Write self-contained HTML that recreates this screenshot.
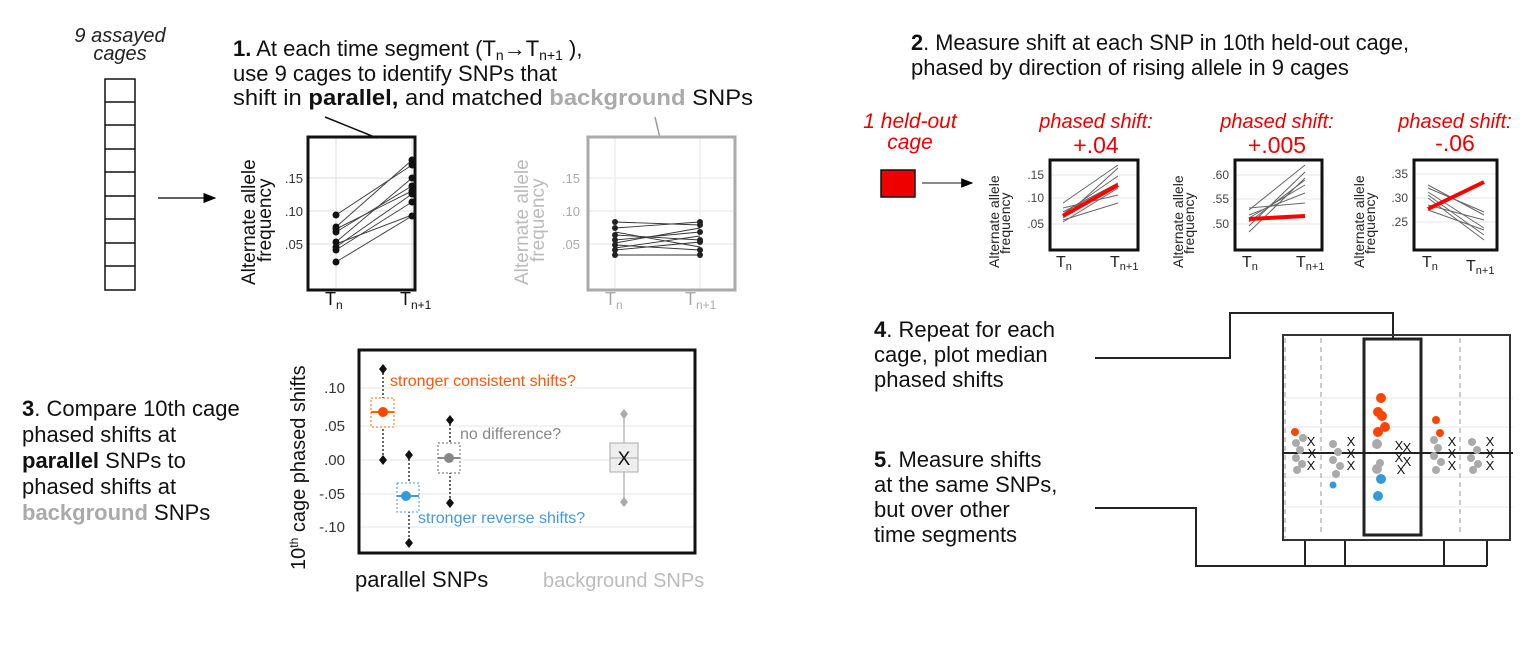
<!DOCTYPE html>
<html><head><meta charset="utf-8"><style>
html,body{margin:0;padding:0;background:#fff;}
svg{display:block;font-family:"Liberation Sans",sans-serif;}
</style></head><body>
<svg width="1537" height="652" viewBox="0 0 1537 652" xmlns="http://www.w3.org/2000/svg">
<defs><marker id="ar" markerWidth="10" markerHeight="10" refX="9" refY="5" orient="auto"><path d="M0,1 L10,5 L0,9 z" fill="#000"/></marker></defs>

<text x="120" y="42" font-size="20" font-style="italic" text-anchor="middle" fill="#222">9 assayed</text>
<text x="120" y="60" font-size="20" font-style="italic" text-anchor="middle" fill="#222">cages</text>
<g fill="none" stroke="#111" stroke-width="1.5">
<rect x="105" y="79" width="30" height="211"/>
<line x1="105" y1="102" x2="135" y2="102"/><line x1="105" y1="125" x2="135" y2="125"/><line x1="105" y1="149" x2="135" y2="149"/><line x1="105" y1="172" x2="135" y2="172"/><line x1="105" y1="196" x2="135" y2="196"/><line x1="105" y1="219" x2="135" y2="219"/><line x1="105" y1="243" x2="135" y2="243"/><line x1="105" y1="266" x2="135" y2="266"/>
</g>
<line x1="158" y1="198" x2="215" y2="198" stroke="#000" stroke-width="1.3" marker-end="url(#ar)"/>

<text x="233" y="56" font-size="22" fill="#111"><tspan font-weight="bold">1.</tspan>  At each time segment (T<tspan font-size="14" dy="4">n</tspan><tspan dy="-4">→T</tspan><tspan font-size="14" dy="4">n+1</tspan><tspan dy="-4"> ),</tspan></text>
<text x="233" y="81" font-size="22" fill="#111">use 9 cages to identify SNPs that</text>
<text x="233" y="105" font-size="22" fill="#111" textLength="520" lengthAdjust="spacingAndGlyphs">shift in <tspan font-weight="bold">parallel,</tspan> and matched <tspan fill="#aaa" font-weight="bold">background</tspan> SNPs</text>
<line x1="325" y1="117" x2="377" y2="138" stroke="#111" stroke-width="1.5"/>
<line x1="655" y1="117" x2="660" y2="138" stroke="#999" stroke-width="1.5"/>

<g stroke="#ddd" stroke-width="1"><line x1="308" y1="178" x2="415" y2="178"/><line x1="308" y1="211" x2="415" y2="211"/><line x1="308" y1="244" x2="415" y2="244"/><line x1="336" y1="137" x2="336" y2="290"/><line x1="412" y1="137" x2="412" y2="290"/></g>
<g stroke="#444" stroke-width="1">
<line x1="336" y1="215" x2="412" y2="165"/><line x1="336" y1="227" x2="412" y2="160"/><line x1="336" y1="232" x2="412" y2="186"/><line x1="336" y1="242" x2="412" y2="178"/><line x1="336" y1="247" x2="412" y2="194"/><line x1="336" y1="250" x2="412" y2="202"/><line x1="336" y1="262" x2="412" y2="216"/><line x1="336" y1="229" x2="412" y2="191"/><line x1="336" y1="244" x2="412" y2="215"/>
</g>
<g fill="#111"><circle cx="336" cy="215" r="3.5"/><circle cx="336" cy="227" r="3.5"/><circle cx="336" cy="232" r="3.5"/><circle cx="336" cy="242" r="3.5"/><circle cx="336" cy="247" r="3.5"/><circle cx="336" cy="250" r="3.5"/><circle cx="336" cy="262" r="3.5"/><circle cx="336" cy="229" r="3.5"/>
<circle cx="412" cy="165" r="3.5"/><circle cx="412" cy="160" r="3.5"/><circle cx="412" cy="186" r="3.5"/><circle cx="412" cy="178" r="3.5"/><circle cx="412" cy="194" r="3.5"/><circle cx="412" cy="202" r="3.5"/><circle cx="412" cy="216" r="3.5"/><circle cx="412" cy="191" r="3.5"/></g>
<rect x="308" y="137" width="107" height="153" fill="none" stroke="#111" stroke-width="3"/>
<g font-size="13" fill="#333" text-anchor="end"><text x="303" y="183">.15</text><text x="303" y="216">.10</text><text x="303" y="249">.05</text></g>
<text transform="translate(255,285) rotate(-90)" font-size="19" fill="#111">Alternate allele</text>
<text transform="translate(271,262) rotate(-90)" font-size="19" fill="#111">frequency</text>
<text x="325" y="305" font-size="18" fill="#111">T<tspan font-size="12" dy="4">n</tspan></text>
<text x="400" y="305" font-size="18" fill="#111">T<tspan font-size="12" dy="4">n+1</tspan></text>

<g stroke="#e5e5e5"><line x1="588" y1="178" x2="735" y2="178"/><line x1="588" y1="211" x2="735" y2="211"/><line x1="588" y1="244" x2="735" y2="244"/><line x1="615" y1="137" x2="615" y2="290"/><line x1="700" y1="137" x2="700" y2="290"/></g>
<g stroke="#333" stroke-width="0.9">
<line x1="615" y1="222" x2="700" y2="225"/><line x1="615" y1="228" x2="700" y2="222"/><line x1="615" y1="235" x2="700" y2="240"/><line x1="615" y1="240" x2="700" y2="232"/><line x1="615" y1="245" x2="700" y2="250"/><line x1="615" y1="250" x2="700" y2="242"/><line x1="615" y1="255" x2="700" y2="255"/><line x1="615" y1="232" x2="700" y2="247"/><line x1="615" y1="248" x2="700" y2="236"/><line x1="615" y1="243" x2="700" y2="228"/>
</g>
<g fill="#222"><circle cx="615" cy="222" r="3"/><circle cx="615" cy="228" r="3"/><circle cx="615" cy="235" r="3"/><circle cx="615" cy="240" r="3"/><circle cx="615" cy="245" r="3"/><circle cx="615" cy="250" r="3"/><circle cx="615" cy="255" r="3"/><circle cx="700" cy="225" r="3"/><circle cx="700" cy="222" r="3"/><circle cx="700" cy="240" r="3"/><circle cx="700" cy="232" r="3"/><circle cx="700" cy="250" r="3"/><circle cx="700" cy="242" r="3"/><circle cx="700" cy="255" r="3"/></g>
<rect x="588" y="137" width="147" height="153" fill="none" stroke="#aaa" stroke-width="3"/>
<g font-size="13" fill="#aaa" text-anchor="end"><text x="580" y="183">.15</text><text x="580" y="216">.10</text><text x="580" y="249">.05</text></g>
<text transform="translate(528,285) rotate(-90)" font-size="19" fill="#bbb">Alternate allele</text>
<text transform="translate(544,262) rotate(-90)" font-size="19" fill="#bbb">frequency</text>
<text x="605" y="305" font-size="18" fill="#aaa">T<tspan font-size="12" dy="4">n</tspan></text>
<text x="685" y="305" font-size="18" fill="#aaa">T<tspan font-size="12" dy="4">n+1</tspan></text>

<text x="911" y="50" font-size="22" fill="#111" textLength="498" lengthAdjust="spacingAndGlyphs"><tspan font-weight="bold">2</tspan>. Measure shift at each SNP in 10th held-out cage,</text>
<text x="911" y="75" font-size="22" fill="#111">phased by direction of rising allele in 9 cages</text>
<text x="910" y="128" font-size="21" font-style="italic" fill="#e00" text-anchor="middle">1 held-out</text>
<text x="910" y="149" font-size="21" font-style="italic" fill="#e00" text-anchor="middle">cage</text>
<rect x="881" y="170" width="34" height="27" fill="#e00" stroke="#111" stroke-width="1.5"/>
<line x1="922" y1="183" x2="972" y2="183" stroke="#444" stroke-width="1.2" marker-end="url(#ar)"/>

<g font-size="20" font-style="italic" fill="#e00" text-anchor="middle">
<text x="1096" y="128">phased shift:</text><text x="1277" y="128">phased shift:</text><text x="1455" y="128">phased shift:</text></g>
<g font-size="23" fill="#e00" text-anchor="middle"><text x="1096" y="153">+.04</text><text x="1277" y="153">+.005</text><text x="1455" y="151">-.06</text></g>

<g stroke="#e5e5e5"><line x1="1050" y1="175" x2="1138" y2="175"/><line x1="1050" y1="198" x2="1138" y2="198"/><line x1="1050" y1="224" x2="1138" y2="224"/></g>
<g stroke="#666" stroke-width="1"><line x1="1063" y1="203" x2="1118" y2="165"/><line x1="1063" y1="218" x2="1118" y2="168"/><line x1="1063" y1="222" x2="1118" y2="188"/><line x1="1063" y1="214" x2="1118" y2="176"/><line x1="1063" y1="208" x2="1118" y2="195"/><line x1="1063" y1="220" x2="1118" y2="203"/><line x1="1063" y1="212" x2="1118" y2="183"/></g>
<line x1="1063" y1="216" x2="1118" y2="185" stroke="#f00" stroke-width="4"/>
<rect x="1050" y="160" width="88" height="90" fill="none" stroke="#111" stroke-width="3"/>
<g font-size="12" fill="#444" text-anchor="end"><text x="1044" y="179">.15</text><text x="1044" y="202">.10</text><text x="1044" y="228">.05</text></g>
<text transform="translate(999,268) rotate(-90)" font-size="14" fill="#222">Alternate allele</text>
<text transform="translate(1010,254) rotate(-90)" font-size="14" fill="#222">frequency</text>
<text x="1056" y="267" font-size="16" fill="#222">T<tspan font-size="11" dy="3">n</tspan></text>
<text x="1110" y="267" font-size="16" fill="#222">T<tspan font-size="11" dy="3">n+1</tspan></text>

<g stroke="#e5e5e5"><line x1="1235" y1="175" x2="1322" y2="175"/><line x1="1235" y1="199" x2="1322" y2="199"/><line x1="1235" y1="224" x2="1322" y2="224"/></g>
<g stroke="#666" stroke-width="1"><line x1="1249" y1="210" x2="1305" y2="165"/><line x1="1249" y1="232" x2="1305" y2="178"/><line x1="1249" y1="222" x2="1305" y2="180"/><line x1="1249" y1="215" x2="1305" y2="193"/><line x1="1249" y1="208" x2="1305" y2="203"/><line x1="1249" y1="226" x2="1305" y2="172"/><line x1="1249" y1="218" x2="1305" y2="185"/></g>
<line x1="1249" y1="219" x2="1305" y2="216" stroke="#f00" stroke-width="4"/>
<rect x="1235" y="160" width="87" height="90" fill="none" stroke="#111" stroke-width="3"/>
<g font-size="12" fill="#444" text-anchor="end"><text x="1229" y="179">.60</text><text x="1229" y="203">.55</text><text x="1229" y="228">.50</text></g>
<text transform="translate(1183,268) rotate(-90)" font-size="14" fill="#222">Alternate allele</text>
<text transform="translate(1194,254) rotate(-90)" font-size="14" fill="#222">frequency</text>
<text x="1242" y="267" font-size="16" fill="#222">T<tspan font-size="11" dy="3">n</tspan></text>
<text x="1296" y="267" font-size="16" fill="#222">T<tspan font-size="11" dy="3">n+1</tspan></text>

<g stroke="#e5e5e5"><line x1="1414" y1="174" x2="1497" y2="174"/><line x1="1414" y1="198" x2="1497" y2="198"/><line x1="1414" y1="222" x2="1497" y2="222"/></g>
<g stroke="#666" stroke-width="1"><line x1="1428" y1="185" x2="1484" y2="215"/><line x1="1428" y1="192" x2="1484" y2="228"/><line x1="1428" y1="198" x2="1484" y2="240"/><line x1="1428" y1="205" x2="1484" y2="220"/><line x1="1428" y1="210" x2="1484" y2="230"/><line x1="1428" y1="195" x2="1484" y2="235"/><line x1="1428" y1="188" x2="1484" y2="212"/></g>
<line x1="1428" y1="209" x2="1484" y2="182" stroke="#f00" stroke-width="4"/>
<rect x="1414" y="160" width="83" height="90" fill="none" stroke="#111" stroke-width="3"/>
<g font-size="12" fill="#444" text-anchor="end"><text x="1408" y="178">.35</text><text x="1408" y="202">.30</text><text x="1408" y="226">.25</text></g>
<text transform="translate(1364,268) rotate(-90)" font-size="14" fill="#222">Alternate allele</text>
<text transform="translate(1375,254) rotate(-90)" font-size="14" fill="#222">frequency</text>
<text x="1422" y="267" font-size="16" fill="#222">T<tspan font-size="11" dy="3">n</tspan></text>
<text x="1466" y="271" font-size="16" fill="#222">T<tspan font-size="11" dy="3">n+1</tspan></text>

<g font-size="22" fill="#111">
<text x="22" y="416"><tspan font-weight="bold">3</tspan>. Compare 10th cage</text>
<text x="22" y="442">phased shifts at</text>
<text x="22" y="468"><tspan font-weight="bold">parallel</tspan> SNPs to</text>
<text x="22" y="494">phased shifts at</text>
<text x="22" y="520"><tspan font-weight="bold" fill="#aaa">background</tspan> SNPs</text>
</g>
<g stroke="#e5e5e5"><line x1="359" y1="388" x2="695" y2="388"/><line x1="359" y1="426" x2="695" y2="426"/><line x1="359" y1="460" x2="695" y2="460"/><line x1="359" y1="494" x2="695" y2="494"/><line x1="359" y1="527" x2="695" y2="527"/></g>
<rect x="359" y="350" width="336" height="203" fill="none" stroke="#111" stroke-width="3"/>
<g font-size="15" fill="#333" text-anchor="end"><text x="345" y="393">.10</text><text x="345" y="431">.05</text><text x="345" y="465">.00</text><text x="345" y="499">-.05</text><text x="345" y="532">-.10</text></g>
<text transform="translate(305,570) rotate(-90)" font-size="20" fill="#111">10<tspan font-size="12" dy="-7">th</tspan><tspan dy="7"> cage phased shifts</tspan></text>
<text x="355" y="587" font-size="22" fill="#111">parallel SNPs</text>
<text x="543" y="587" font-size="20" fill="#bbb">background SNPs</text>
<line x1="383" y1="369" x2="383" y2="460" stroke="#666" stroke-width="2" stroke-dasharray="2,2"/>
<rect x="371" y="398" width="23" height="29" fill="#fff" stroke="#f60" stroke-dasharray="2,2"/>
<line x1="371" y1="412" x2="394" y2="412" stroke="#f60" stroke-width="2"/>
<circle cx="383" cy="412" r="5" fill="#f40"/>
<path d="M383,364 l4,5 l-4,5 l-4,-5z M383,455 l4,5 l-4,5 l-4,-5z" fill="#111"/>
<text x="390" y="386" font-size="16" fill="#f50">stronger consistent shifts?</text>
<line x1="409" y1="455" x2="409" y2="543" stroke="#666" stroke-width="2" stroke-dasharray="2,2"/>
<rect x="397" y="483" width="22" height="29" fill="#fff" stroke="#49d" stroke-dasharray="2,2"/>
<line x1="397" y1="496" x2="419" y2="496" stroke="#49d" stroke-width="2"/>
<circle cx="406" cy="496" r="5" fill="#39d"/>
<path d="M409,450 l4,5 l-4,5 l-4,-5z M409,538 l4,5 l-4,5 l-4,-5z" fill="#111"/>
<text x="418" y="523" font-size="16" fill="#49d">stronger reverse shifts?</text>
<line x1="450" y1="420" x2="450" y2="503" stroke="#666" stroke-width="2" stroke-dasharray="2,2"/>
<rect x="438" y="443" width="22" height="30" fill="#fff" stroke="#666" stroke-dasharray="2,2"/>
<line x1="438" y1="458" x2="460" y2="458" stroke="#888" stroke-width="2"/>
<circle cx="449" cy="458" r="5" fill="#888"/>
<path d="M450,415 l4,5 l-4,5 l-4,-5z M450,498 l4,5 l-4,5 l-4,-5z" fill="#111"/>
<text x="460" y="439" font-size="16" fill="#888">no difference?</text>
<line x1="624" y1="414" x2="624" y2="502" stroke="#bbb" stroke-width="1.5"/>
<rect x="610" y="443" width="28" height="29" fill="#eee" stroke="#aaa"/>
<line x1="610" y1="458" x2="638" y2="458" stroke="#aaa"/>
<path d="M624,409 l4,5 l-4,5 l-4,-5z M624,497 l4,5 l-4,5 l-4,-5z" fill="#aaa"/>
<text x="624" y="465" font-size="19" fill="#111" text-anchor="middle">X</text>

<g font-size="22" fill="#111">
<text x="874" y="337"><tspan font-weight="bold">4</tspan>. Repeat for each</text>
<text x="874" y="362">cage, plot median</text>
<text x="874" y="387">phased shifts</text>
<text x="874" y="467"><tspan font-weight="bold">5</tspan>. Measure shifts</text>
<text x="874" y="492">at the same SNPs,</text>
<text x="874" y="517">but over other</text>
<text x="874" y="542">time segments</text>
</g>
<polyline points="1095,358 1230,358 1230,313 1393,313 1393,338" fill="none" stroke="#222" stroke-width="2"/>
<polyline points="1095,508 1196,508 1196,566 1487,566" fill="none" stroke="#222" stroke-width="2"/>
<g stroke="#222" stroke-width="2"><line x1="1305" y1="540" x2="1305" y2="566"/><line x1="1345" y1="540" x2="1345" y2="566"/><line x1="1444" y1="540" x2="1444" y2="566"/><line x1="1487" y1="540" x2="1487" y2="566"/></g>
<g stroke="#e5e5e5"><line x1="1283" y1="398" x2="1513" y2="398"/><line x1="1283" y1="427" x2="1513" y2="427"/><line x1="1283" y1="477" x2="1513" y2="477"/><line x1="1283" y1="507" x2="1513" y2="507"/></g>
<g stroke="#999" stroke-dasharray="5,4"><line x1="1321" y1="338" x2="1321" y2="535"/><line x1="1460" y1="338" x2="1460" y2="535"/><line x1="1285" y1="338" x2="1285" y2="538"/><line x1="1510" y1="338" x2="1510" y2="538"/></g>
<rect x="1283" y="335" width="227" height="205" fill="none" stroke="#333" stroke-width="2"/>
<line x1="1283" y1="453" x2="1513" y2="453" stroke="#222" stroke-width="2"/>
<rect x="1364" y="339" width="57" height="196" fill="none" stroke="#222" stroke-width="3"/>
<g fill="#aaa">
<circle cx="1296" cy="443" r="4"/><circle cx="1300" cy="450" r="4"/><circle cx="1296" cy="458" r="4"/><circle cx="1302" cy="464" r="4"/><circle cx="1297" cy="470" r="4"/><circle cx="1303" cy="438" r="4"/>
<circle cx="1333" cy="444" r="4"/><circle cx="1338" cy="452" r="4"/><circle cx="1333" cy="460" r="4"/><circle cx="1340" cy="466" r="4"/><circle cx="1336" cy="474" r="4"/>
<circle cx="1377" cy="444" r="5"/><circle cx="1380" cy="463" r="4"/><circle cx="1377" cy="469" r="5"/>
<circle cx="1434" cy="440" r="4"/><circle cx="1438" cy="448" r="4"/><circle cx="1434" cy="456" r="4"/><circle cx="1441" cy="462" r="4"/><circle cx="1436" cy="470" r="4"/>
<circle cx="1472" cy="442" r="4"/><circle cx="1477" cy="450" r="4"/><circle cx="1471" cy="458" r="4"/><circle cx="1478" cy="464" r="4"/><circle cx="1473" cy="470" r="4"/>
</g>
<g fill="#f40"><circle cx="1295" cy="432" r="4"/><circle cx="1381" cy="398" r="5"/><circle cx="1378" cy="412" r="5"/><circle cx="1382" cy="416" r="5"/><circle cx="1385" cy="427" r="5"/><circle cx="1378" cy="432" r="5"/><circle cx="1436" cy="420" r="4"/><circle cx="1440" cy="433" r="4"/></g>
<g fill="#39d"><circle cx="1333" cy="485" r="3.5"/><circle cx="1381" cy="479" r="5"/><circle cx="1378" cy="496" r="5"/></g>
<g font-size="13" fill="#111" text-anchor="middle">
<text x="1311" y="446">X</text><text x="1312" y="458">X</text><text x="1311" y="470">X</text>
<text x="1351" y="446">X</text><text x="1351" y="458">X</text><text x="1351" y="470">X</text>
<text x="1399" y="450">X</text><text x="1407" y="452">X</text><text x="1399" y="462">X</text><text x="1407" y="466">X</text><text x="1401" y="474">X</text>
<text x="1452" y="446">X</text><text x="1452" y="458">X</text><text x="1452" y="470">X</text>
<text x="1490" y="446">X</text><text x="1490" y="458">X</text><text x="1490" y="470">X</text>
</g>
</svg>
</body></html>
